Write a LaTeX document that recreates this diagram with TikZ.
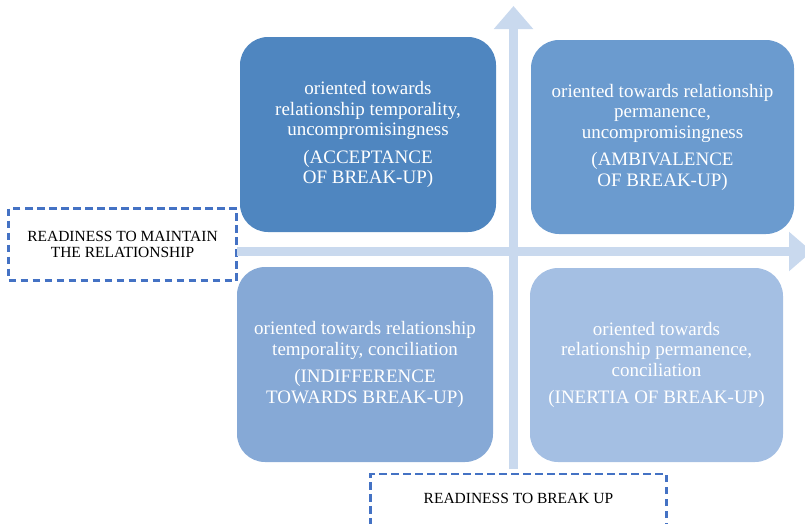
\documentclass[tikz,border=0pt]{standalone}
\usepackage{fontspec}
\setmainfont{Liberation Serif}
\usepackage{tikz}
\usetikzlibrary{arrows.meta}
\definecolor{acceptBlue}{HTML}{4F86C0}
\definecolor{ambivBlue}{HTML}{6B9BCF}
\definecolor{indiffBlue}{HTML}{86A9D6}
\definecolor{inertBlue}{HTML}{A4BFE3}
\definecolor{axisBlue}{HTML}{C9D9EE}
\definecolor{dashBlue}{HTML}{4472C4}

\begin{document}
\begin{tikzpicture}[x=1pt, y=-1pt,
  quad/.style={rounded corners=28pt, text=white, align=center, inner sep=0pt,
    font=\fontsize{19}{20.5}\selectfont},
  axislabel/.style={draw=dashBlue, line width=2.3pt, dash pattern=on 7.5pt off 4.5pt,
    align=center, inner sep=0pt, font=\fontsize{15.5}{16.5}\selectfont},
  axisarrow/.style={draw=axisBlue, line width=9pt, -{Triangle[length=23pt,width=38pt]}}]
 	\useasboundingbox (0,0) rectangle (805,523);
 	% axes
 	\node[axislabel, minimum width=228pt, minimum height=72pt] (keep) at (122.5,244.5)
 	  {READINESS TO MAINTAIN\\THE RELATIONSHIP};
 	\node[axislabel, anchor=north, minimum width=296pt, inner ysep=0pt,
 	  text height=29pt, text depth=31pt] (leave) at (518.5,473) {READINESS TO BREAK UP};
 	\coordinate (hbase) at (237,251.5);
 	\coordinate (hend) at (812,251.5);
 	\coordinate (vbase) at (513.5,469);
 	\coordinate (vend) at (513.5,6);
 	\draw[axisarrow] (hbase) -- (hend);
 	\draw[axisarrow] (vbase) -- (vend);
 	% quadrants
 	\node[quad, fill=acceptBlue, minimum width=256pt, minimum height=195pt] (accept) at (368,134.5)
 	  {oriented towards\\relationship temporality,\\uncompromisingness\\[7pt](ACCEPTANCE\\OF BREAK-UP)};
 	\node[quad, fill=ambivBlue, minimum width=263pt, minimum height=194pt] (ambiv) at (662.5,137)
 	  {oriented towards relationship\\permanence,\\uncompromisingness\\[7pt](AMBIVALENCE\\OF BREAK-UP)};
 	\node[quad, fill=indiffBlue, minimum width=256pt, minimum height=195pt] (indiff) at (365,364.5)
 	  {oriented towards relationship\\temporality, conciliation\\[7pt](INDIFFERENCE\\TOWARDS BREAK-UP)};
 	\node[quad, fill=inertBlue, minimum width=253pt, minimum height=194pt] (inert) at (656.5,365)
 	  {oriented towards\\relationship permanence,\\conciliation\\[7pt](INERTIA OF BREAK-UP)};
\end{tikzpicture}
\end{document}
